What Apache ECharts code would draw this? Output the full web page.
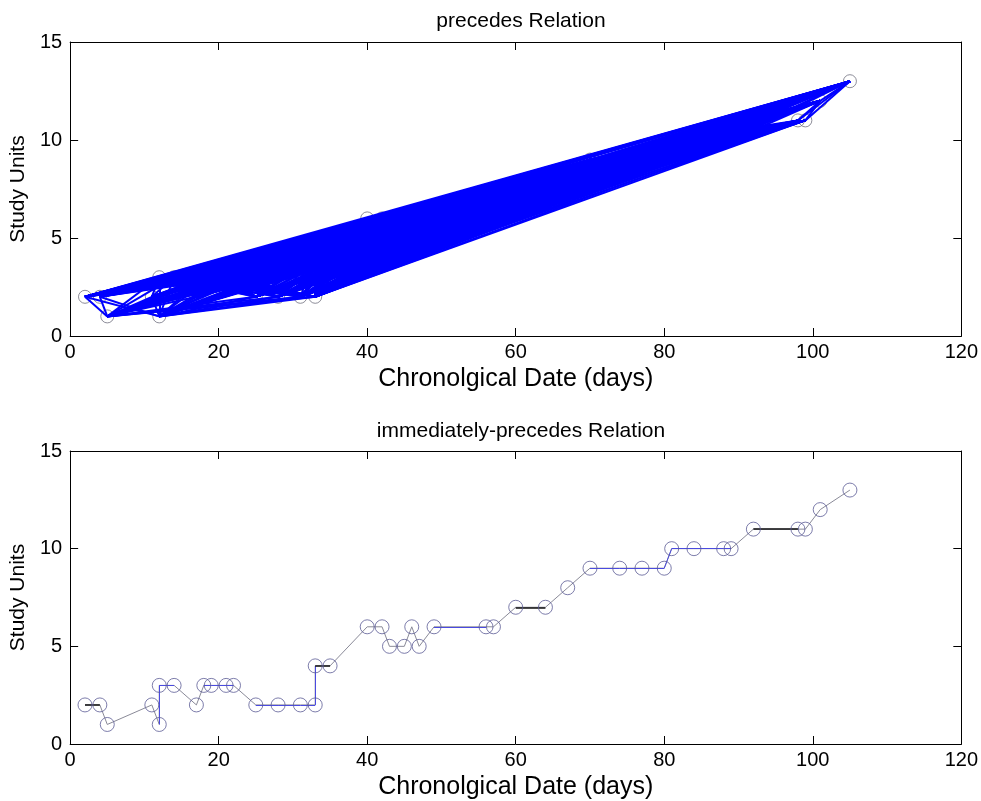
<!DOCTYPE html>
<html>
<head>
<meta charset="utf-8">
<script src="https://cdn.jsdelivr.net/npm/echarts@6/dist/echarts.min.js"></script>
<style>
html,body{margin:0;padding:0;background:#fff;}
#chart{width:981px;height:801px;}
</style>
</head>
<body>
<div id="chart"></div>
<script>
// Chronological dates (days) and study units of each observation
const dates = [2,4,5,11,12,12,14,17,18,19,21,22,25,28,31,33,33,35,40,42,43,45,46,47,49,56,57,60,64,67,70,74,77,80,81,84,88,89,92,98,99,101,105];
const units = [2,2,1,2,1,3,3,2,3,3,3,3,2,2,2,2,4,4,6,6,5,5,6,5,6,6,6,7,7,8,9,9,9,9,10,10,10,10,11,11,11,12,13];
// immediately-precedes edges (start index i → i+1) drawn in blue / black
const blueEdges = [4,5,8,9,10,12,13,14,15,24,30,31,32,33,34,35,36];
const blackEdges = [0,16,27,38];
const xTicks = [0,20,40,60,80,100,120];
const yTicks = [0,5,10,15];
const titles = ['precedes Relation','immediately-precedes Relation'];
const xName = 'Chronolgical Date (days)';
const yName = 'Study Units';

const FONT = 'Liberation Sans, Arial, Helvetica, sans-serif';
const pts = dates.map((d,i)=>[d,units[i]]);

// precedes relation: every lower study unit precedes every higher one
const precedesLines = [];
for (let i=0;i<pts.length;i++){
  for (let j=0;j<pts.length;j++){
    if (units[i] < units[j]) precedesLines.push({coords:[pts[i],pts[j]]});
  }
}
const edgeData = idx => idx.map(i=>({coords:[pts[i],pts[i+1]]}));

function xAxes(g){
  return [
    {gridIndex:g,type:'value',min:xTicks[0],max:xTicks[xTicks.length-1],interval:20,position:'bottom',
     axisLine:{show:true,onZero:false,lineStyle:{color:'#000',width:1}},
     axisTick:{show:true,inside:true,length:8,lineStyle:{color:'#000'}},
     axisLabel:{show:true,color:'#000',fontSize:20,fontFamily:FONT,margin:6},
     splitLine:{show:false},
     name:xName,nameLocation:'middle',nameGap:31,
     nameTextStyle:{color:'#000',fontSize:25,fontFamily:FONT}},
    {gridIndex:g,type:'value',min:xTicks[0],max:xTicks[xTicks.length-1],interval:20,position:'top',
     axisLine:{show:true,onZero:false,lineStyle:{color:'#000',width:1}},
     axisTick:{show:true,inside:true,length:8,lineStyle:{color:'#000'}},
     axisLabel:{show:false},splitLine:{show:false}}
  ];
}
function yAxes(g){
  return [
    {gridIndex:g,type:'value',min:yTicks[0],max:yTicks[yTicks.length-1],interval:5,position:'left',
     axisLine:{show:true,onZero:false,lineStyle:{color:'#000',width:1}},
     axisTick:{show:true,inside:true,length:8,lineStyle:{color:'#000'}},
     axisLabel:{show:true,color:'#000',fontSize:20,fontFamily:FONT,margin:8},
     splitLine:{show:false},
     name:yName,nameLocation:'middle',nameGap:38,nameRotate:90,
     nameTextStyle:{color:'#000',fontSize:21,fontFamily:FONT}},
    {gridIndex:g,type:'value',min:yTicks[0],max:yTicks[yTicks.length-1],interval:5,position:'right',
     axisLine:{show:true,onZero:false,lineStyle:{color:'#000',width:1}},
     axisTick:{show:true,inside:true,length:8,lineStyle:{color:'#000'}},
     axisLabel:{show:false},splitLine:{show:false}}
  ];
}

const chart = echarts.init(document.getElementById('chart'), null, {renderer:'canvas'});
chart.setOption({
  animation:false,
  backgroundColor:'#fff',
  title:[
    {text:titles[0],left:516,textAlign:'center',top:6,textStyle:{color:'#000',fontSize:21,fontWeight:'normal',fontFamily:FONT}},
    {text:titles[1],left:516,textAlign:'center',top:416,textStyle:{color:'#000',fontSize:21,fontWeight:'normal',fontFamily:FONT}}
  ],
  grid:[
    {left:70,top:42,width:892,height:294},
    {left:70,top:451,width:892,height:294}
  ],
  xAxis:[...xAxes(0),...xAxes(1)],
  yAxis:[...yAxes(0),...yAxes(1)],
  series:[
    {type:'scatter',xAxisIndex:0,yAxisIndex:0,data:pts,symbol:'circle',symbolSize:13,z:1,
     itemStyle:{color:'rgba(0,0,0,0)',borderColor:'#707080',borderWidth:1}},
    {type:'lines',coordinateSystem:'cartesian2d',xAxisIndex:0,yAxisIndex:0,data:precedesLines,z:2,
     lineStyle:{color:'#0000ff',width:2,opacity:1}},
    {type:'line',xAxisIndex:2,yAxisIndex:2,data:pts,showSymbol:false,symbol:'none',z:2,
     lineStyle:{color:'#8a8a98',width:1}},
    {type:'lines',coordinateSystem:'cartesian2d',xAxisIndex:2,yAxisIndex:2,data:edgeData(blueEdges),z:3,
     lineStyle:{color:'#4a4ae0',width:1,opacity:1}},
    {type:'lines',coordinateSystem:'cartesian2d',xAxisIndex:2,yAxisIndex:2,data:edgeData(blackEdges),z:3,
     lineStyle:{color:'#111',width:1.5,opacity:1}},
    {type:'scatter',xAxisIndex:2,yAxisIndex:2,data:pts,symbol:'circle',symbolSize:14,z:4,
     itemStyle:{color:'rgba(0,0,0,0)',borderColor:'#5c5c96',borderWidth:1}}
  ]
});
</script>
</body>
</html>
